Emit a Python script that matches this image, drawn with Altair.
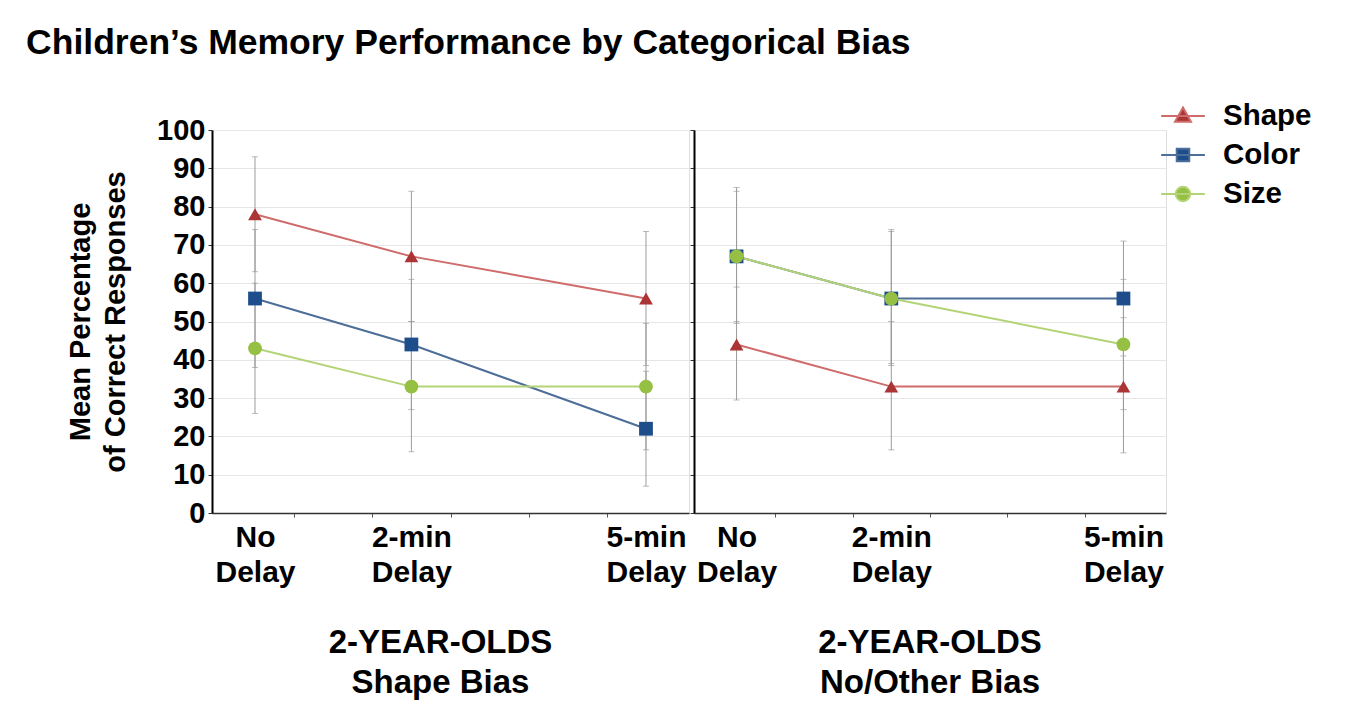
import altair as alt
import pandas as pd

# ---------------- data ----------------
series = ["Shape", "Color", "Size"]
delays = [0, 2, 5]
delay_labels = [["No", "Delay"], ["2-min", "Delay"], ["5-min", "Delay"]]
panel_titles = [["2-YEAR-OLDS", "Shape Bias"], ["2-YEAR-OLDS", "No/Other Bias"]]

# Panel 1: 2-year-olds, shape bias
p1_mean = {"Shape": [78, 67, 56], "Color": [56, 44, 22], "Size": [43, 33, 33]}
p1_low = {"Shape": [63, 50, 38.5], "Color": [38, 27, 7], "Size": [26, 16, 16.5]}
p1_high = {"Shape": [93, 84, 73.5], "Color": [74, 61, 37], "Size": [60, 50, 49.5]}

# Panel 2: 2-year-olds, no/other bias
p2_mean = {"Shape": [44, 33, 33], "Color": [67, 56, 56], "Size": [67, 56, 44]}
p2_low = {"Shape": [29.5, 16.5, 15.7], "Color": [50, 38.5, 41], "Size": [49.5, 39, 27]}
p2_high = {"Shape": [59, 50, 51], "Color": [84, 73.5, 71], "Size": [85, 74, 61]}

y_ticks = list(range(0, 101, 10))
x_minor_ticks = [0.5, 1.5, 2.5, 3.5, 4.5]

# ---------------- styling ----------------
FONT = "Liberation Sans"
marker_colors = ["#ab3434", "#1d4d8a", "#96c043"]
line_colors = ["#cf6b6b", "#4c6e98", "#b3d476"]
marker_shapes = ["triangle-up", "square", "circle"]
legend_paths = [
    "M-1.15,0L1.15,0M0,-0.45L0.42,0.3L-0.42,0.3Z",
    "M-1.15,0L1.15,0M-0.33,-0.33L0.33,-0.33L0.33,0.33L-0.33,0.33Z",
    "M-1.15,0L1.15,0M-0.38,0A0.38,0.38,0,1,1,0.38,0A0.38,0.38,0,1,1,-0.38,0Z",
]
x_domain = [-0.55, 5.55]


def build_df(mean, low, high):
    rows = []
    for s in series:
        for i, d in enumerate(delays):
            rows.append({"series": s, "delay": d, "mean": mean[s][i],
                         "low": low[s][i], "high": high[s][i],
                         "order": series.index(s)})
    return pd.DataFrame(rows)


label_expr = "''"
for d, lab in reversed(list(zip(delays, delay_labels))):
    label_expr = f"datum.value == {d} ? [{', '.join(repr(t) for t in lab)}] : " + label_expr
label_test = " || ".join(f"datum.value == {d}" for d in delays)

x_axis = alt.Axis(
    values=sorted(delays + x_minor_ticks), labelExpr=label_expr, title=None,
    labelFontSize=30, labelFontWeight="bold", labelColor="black", labelFont=FONT,
    labelLineHeight=35, labelPadding=5, labelOverlap=False, labelFlush=False,
    labelBaseline="top",
    tickOpacity={"condition": {"test": label_test, "value": 0}, "value": 1},
    tickSize=4, tickColor="#555", domainColor="#333", domainWidth=1.5, grid=False,
)

y_axis_left = alt.Axis(
    values=y_ticks, title=["Mean Percentage", "of Correct Responses"],
    titleFontSize=29, titleFontWeight="bold", titleFont=FONT, titleColor="black",
    titleLineHeight=35, titlePadding=26,
    labelFontSize=29, labelFontWeight="bold", labelColor="black", labelFont=FONT,
    labelPadding=3, tickSize=4, tickColor="#333", domainColor="black",
    domainWidth=2, gridColor="#e6e6e6", gridWidth=1,
)
y_axis_right = alt.Axis(
    values=y_ticks, title=None, labels=False, tickSize=4, tickColor="#333",
    domainColor="black", domainWidth=2, gridColor="#e6e6e6", gridWidth=1,
)

legend = alt.Legend(
    title=None, orient="none", legendX=469, legendY=-34,
    labelFontSize=29.5, labelFontWeight="bold", labelColor="black", labelFont=FONT,
    symbolSize=1444, rowPadding=4, labelOffset=20, symbolStrokeWidth=2,
)

fill_scale = alt.Scale(domain=series, range=marker_colors)
stroke_scale = alt.Scale(domain=series, range=line_colors)
shape_scale = alt.Scale(domain=series, range=marker_shapes)
legend_shape_scale = alt.Scale(domain=series, range=legend_paths)


def panel(df, title, left, width, title_dx):
    y_axis = y_axis_left if left else y_axis_right
    xs = alt.Scale(domain=x_domain, nice=False, zero=False)
    ys = alt.Scale(domain=[0, 100], nice=False, zero=True)
    base = alt.Chart(df)
    err = base.mark_errorbar(
        ticks=alt.MarkConfig(size=6), rule=alt.MarkConfig(strokeWidth=1),
        color="#9c9c9c",
    ).encode(
        x=alt.X("delay:Q", scale=xs, axis=x_axis),
        y=alt.Y("low:Q", scale=ys, axis=y_axis),
        y2="high:Q",
    )
    lines = base.mark_line(strokeWidth=2).encode(
        x=alt.X("delay:Q", scale=xs, axis=x_axis),
        y=alt.Y("mean:Q", scale=ys, axis=y_axis),
        stroke=alt.Stroke("series:N", scale=stroke_scale, legend=None),
        order="order:Q",
    )
    pts = base.mark_point(filled=True, size=190, opacity=1).encode(
        x=alt.X("delay:Q", scale=xs, axis=x_axis),
        y=alt.Y("mean:Q", scale=ys, axis=y_axis),
        fill=alt.Fill("series:N", scale=fill_scale, legend=None),
        shape=alt.Shape("series:N", scale=shape_scale, legend=None),
        order="order:Q",
    )
    layers = [err, lines, pts]
    if not left:
        leg = base.transform_filter("false").mark_point(filled=True, opacity=1).encode(
            x=alt.X("delay:Q", scale=xs, axis=x_axis),
            y=alt.Y("mean:Q", scale=ys, axis=y_axis),
            fill=alt.Fill("series:N", scale=fill_scale, legend=legend),
            stroke=alt.Stroke("series:N", scale=stroke_scale, legend=legend),
            shape=alt.Shape("series:N", scale=legend_shape_scale, legend=legend),
        )
        layers.append(leg)
    out = alt.layer(*layers).properties(
        width=width, height=383,
        title=alt.TitleParams(
            title, orient="bottom", anchor="middle", frame="group", fontSize=33,
            fontWeight="bold", font=FONT, color="black", lineHeight=40,
            offset=40, dx=title_dx,
        ),
    )
    if not left:
        out = out.resolve_scale(fill="independent", stroke="independent", shape="independent")
    return out


left = panel(build_df(p1_mean, p1_low, p1_high), panel_titles[0], True, 477, -10)
right = panel(build_df(p2_mean, p2_low, p2_high), panel_titles[1], False, 472, 0)

chart = alt.hconcat(left, right, spacing=5, bounds="flush").resolve_scale(
    fill="independent", stroke="independent", shape="independent"
).properties(
    title=alt.TitleParams(
        "Children\u2019s Memory Performance by Categorical Bias", anchor="start",
        frame="bounds", fontSize=35.5, fontWeight="bold", font=FONT, color="black",
        offset=34, dx=-40,
    ),
    padding={"left": 18, "top": 18, "right": 10, "bottom": 10},
).configure_view(stroke=None).configure(font=FONT, background="white")

chart.save("out.html", embed_options={"renderer": "svg", "actions": False})
